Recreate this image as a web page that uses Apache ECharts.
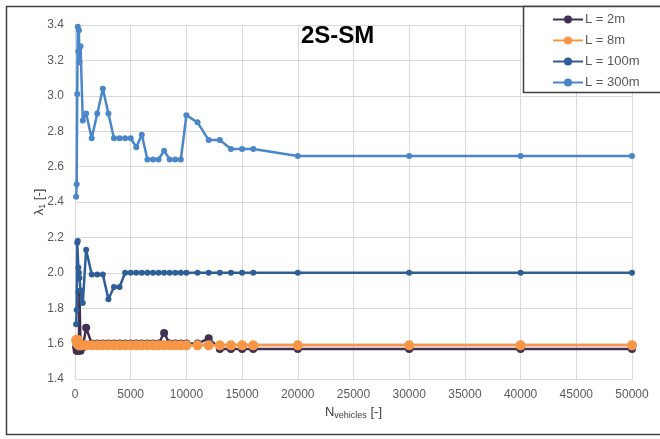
<!DOCTYPE html>
<html>
<head>
<meta charset="utf-8">
<script src="https://cdn.jsdelivr.net/npm/echarts@6/dist/echarts.min.js"></script>
<style>html,body{margin:0;padding:0;background:#fff;}#c{width:660px;height:439px;}</style>
</head>
<body>
<div id="c"></div>
<script>
const xValues = [100,150,200,250,300,350,400,500,700,1000,
  1500,2000,2500,3000,3500,4000,4500,5000,5500,6000,6500,7000,7500,8000,8500,9000,9500,10000,
  11000,12000,13000,14000,15000,16000,20000,30000,40000,50000];

const seriesNames = ['L = 2m','L = 8m','L = 100m','L = 300m'];

const L2 = [1.58,1.56,1.56,1.57,1.56,1.60,1.89,1.56,1.58,1.69,
  1.60,1.60,1.60,1.60,1.60,1.60,1.60,1.60,1.60,1.60,1.60,1.60,1.60,1.66,1.60,1.60,1.60,1.60,
  1.60,1.63,1.57,1.57,1.57,1.57,1.57,1.57,1.57,1.57];

const L8 = [1.62,1.61,1.60,1.62,1.60,1.59,1.59,1.59,1.59,1.59,
  1.59,1.59,1.59,1.59,1.59,1.59,1.59,1.59,1.59,1.59,1.59,1.59,1.59,1.59,1.59,1.59,1.59,1.59,
  1.59,1.59,1.59,1.59,1.59,1.59,1.59,1.59,1.59,1.59];

const L100 = [1.71,1.79,2.17,2.18,2.03,2.00,1.97,1.90,1.83,2.13,
  1.99,1.99,1.99,1.85,1.92,1.92,2.00,2.00,2.00,2.00,2.00,2.00,2.00,2.00,2.00,2.00,2.00,2.00,
  2.00,2.00,2.00,2.00,2.00,2.00,2.00,2.00,2.00,2.00];

const L300 = [2.43,2.50,3.01,3.39,3.25,3.37,3.19,3.28,2.86,2.90,
  2.76,2.90,3.04,2.90,2.76,2.76,2.76,2.76,2.71,2.78,2.64,2.64,2.64,2.69,2.64,2.64,2.64,2.89,
  2.85,2.75,2.75,2.70,2.70,2.70,2.66,2.66,2.66,2.66];

const allValues = [L2, L8, L100, L300];
const colors = ['#403152','#F79646','#2E5D98','#4A86C8'];
const symbolSizes = [8,10,6,6];

const pair = arr => xValues.map((x,i)=>[x, arr[i]]);

const chart = echarts.init(document.getElementById('c'), null, {renderer:'canvas'});
const FONT = '"Liberation Sans", Arial, sans-serif';

chart.setOption({
  animation: false,
  backgroundColor: '#fff',
  textStyle: {fontFamily: FONT},
  title: {
    text: '2S-SM', left: 296, top: 19,
    textStyle: {fontFamily: FONT, fontWeight: 'bold', fontSize: 24, color: '#000'}
  },
  graphic: [
    {type:'rect', shape:{x:6.5,y:6.5,width:660,height:428}, style:{fill:'none', stroke:'#404040', lineWidth:1.5}, z:-1},
    {type:'rect', shape:{x:523.5,y:6.5,width:150,height:86}, style:{fill:'#fff', stroke:'#404040', lineWidth:1.5}, z:5}
  ],
  legend: {
    orient: 'vertical', left: 547, top: 8, itemWidth: 30, itemHeight: 10, itemGap: 8,
    z: 10,
    data: seriesNames,
    textStyle: {fontFamily: FONT, fontSize: 13, color: '#595959', padding:[0,0,0,-3]}
  },
  grid: {left: 75, right: 28, top: 25, bottom: 60},
  xAxis: {
    type: 'value', min: 0, max: 50000, interval: 5000,
    name: '{n|N}{s|vehicles}{n| [-]}', nameLocation: 'middle', nameGap: 25, nameMoveOverlap: false,
    nameTextStyle: {rich: {
      n: {fontFamily: FONT, fontSize: 13, color: '#404040'},
      s: {fontFamily: FONT, fontSize: 9, color: '#404040', padding:[7,0,0,0]}
    }},
    axisLine: {show: true, lineStyle: {color: '#d9d9d9'}},
    axisTick: {show: false},
    axisLabel: {fontFamily: FONT, fontSize: 12, color: '#595959', margin: 10, formatter: v => String(v)},
    splitLine: {show: true, lineStyle: {color: '#d9d9d9', width: 1}}
  },
  yAxis: {
    type: 'value', min: 1.4, max: 3.4, interval: 0.2,
    name: '{n|λ}{s|1}{n| [-]}', nameLocation: 'middle', nameGap: 28, nameMoveOverlap: false,
    nameTextStyle: {rich: {
      n: {fontFamily: FONT, fontSize: 13, color: '#404040'},
      s: {fontFamily: FONT, fontSize: 9, color: '#404040', padding:[7,0,0,0]}
    }},
    axisLine: {show: true, lineStyle: {color: '#d9d9d9'}},
    axisTick: {show: false},
    axisLabel: {fontFamily: FONT, fontSize: 12, color: '#595959', margin: 11, formatter: v => v.toFixed(1)},
    splitLine: {show: true, lineStyle: {color: '#d9d9d9', width: 1}}
  },
  series: seriesNames.map((name, k) => ({
    name, type: 'line', data: pair(allValues[k]),
    symbol: 'circle', symbolSize: symbolSizes[k], showSymbol: true,
    color: colors[k],
    lineStyle: {width: 2.5, color: colors[k]},
    itemStyle: {color: colors[k]},
    z: 2 + k
  }))
});
</script>
</body>
</html>
